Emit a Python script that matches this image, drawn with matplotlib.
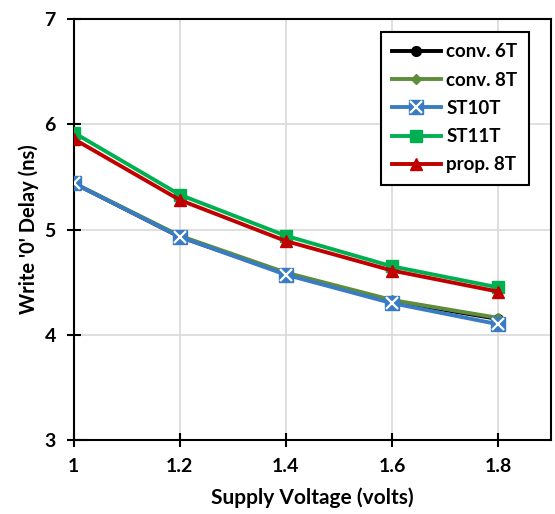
import matplotlib
matplotlib.use("Agg")
from matplotlib import pyplot as plt

plt.rcParams['font.family'] = ['Lato', 'DejaVu Sans']
plt.rcParams['font.weight'] = 'bold'

vdd = [1.0, 1.2, 1.4, 1.6, 1.8]
conv6t = [5.44, 4.93, 4.58, 4.32, 4.15]
conv8t = [5.44, 4.94, 4.59, 4.33, 4.16]
st10t = [5.44, 4.93, 4.57, 4.30, 4.10]
st11t = [5.92, 5.33, 4.94, 4.65, 4.45]
prop8t = [5.86, 5.28, 4.89, 4.61, 4.41]

fig = plt.figure(figsize=(5.55, 5.14), dpi=100)
ax = fig.add_axes([0.133, 0.144, 0.86, 0.819])

l1, = ax.plot(vdd, conv6t, color='black', lw=2.8, marker='o', ms=7, label='conv. 6T', zorder=3)
l2, = ax.plot(vdd, conv8t, color='#5E8C3A', lw=2.8, marker='D', ms=5.5, label='conv. 8T', zorder=4)
l3, = ax.plot(vdd, st10t, color='#3A7CC3', lw=2.8, marker='s', ms=10, mec='#3A7CC3', zorder=5)
l3x, = ax.plot(vdd, st10t, ls='none', marker='x', ms=8, mew=1.6, color='white', zorder=6)
l4, = ax.plot(vdd, st11t, color='#00B050', lw=2.8, marker='s', ms=8, zorder=3)
l5, = ax.plot(vdd, prop8t, color='#C00000', lw=2.8, marker='^', ms=9, zorder=4)

ax.set_xlim(1.0, 1.9)
ax.set_ylim(3, 7)
ax.set_xticks([1.0, 1.2, 1.4, 1.6, 1.8])
ax.set_xticklabels(['1', '1.2', '1.4', '1.6', '1.8'])
ax.set_yticks([3, 4, 5, 6, 7])
ax.set_xticks([1.9], minor=True)
ax.grid(True, which='both', color='#D9D9D9', lw=1.2)
ax.set_axisbelow(True)
ax.tick_params(which='major', direction='inout', length=10, width=1.5, labelsize=14, pad=8)
ax.tick_params(which='minor', length=0)
for s in ax.spines.values():
    s.set_linewidth(1.5)
ax.set_xlabel('Supply Voltage (volts)', fontsize=15, fontweight='bold', labelpad=9)
ax.set_ylabel("Write '0' Delay (ns)", fontsize=14.5, fontweight='bold', labelpad=4)

leg = ax.legend([l1, l2, (l3, l3x), l4, l5],
                ['conv. 6T', 'conv. 8T', 'ST10T', 'ST11T', 'prop. 8T'],
                loc='upper right', bbox_to_anchor=(0.953, 0.969), borderaxespad=0,
                fontsize=13.5, fancybox=False, edgecolor='black', framealpha=1,
                handlelength=2.6, labelspacing=0.6, borderpad=0.6, handletextpad=0.3)
leg.get_frame().set_linewidth(1.5)

fig.savefig('out.png', dpi=100)
